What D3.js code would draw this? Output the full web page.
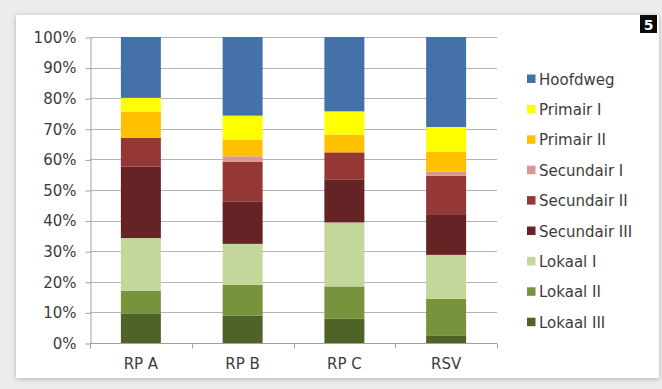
<!DOCTYPE html>
<html>
<head>
<meta charset="utf-8">
<script src="https://cdn.jsdelivr.net/npm/d3@7"></script>
<style>
  html, body { margin: 0; padding: 0; background: #ebebeb; }
  svg { display: block; }
</style>
</head>
<body>
<svg id="chart" width="662" height="389"></svg>
<script>
const categories = ["RP A", "RP B", "RP C", "RSV"];
const seriesNames = ["Lokaal III", "Lokaal II", "Lokaal I", "Secundair III", "Secundair II", "Secundair I", "Primair II", "Primair I", "Hoofdweg"];
const seriesColors = ["#4f6228", "#77933c", "#c4d79b", "#652326", "#953735", "#d99694", "#ffc000", "#ffff00", "#4472a8"];
const lokaalIII = [9.7, 8.9, 8.0, 2.5];
const lokaalII = [7.3, 10.1, 10.5, 11.9];
const lokaalI = [17.3, 13.4, 20.9, 14.4];
const secundairIII = [23.4, 13.9, 14.1, 13.3];
const secundairII = [9.4, 12.9, 8.8, 12.6];
const secundairI = [0, 1.8, 0, 1.3];
const primairII = [8.4, 5.5, 5.8, 6.6];
const primairI = [4.6, 7.8, 7.6, 8.0];
const hoofdweg = [19.9, 25.7, 24.3, 29.4];
const yTicks = [0, 10, 20, 30, 40, 50, 60, 70, 80, 90, 100];

const seriesValues = [lokaalIII, lokaalII, lokaalI, secundairIII, secundairII, secundairI, primairII, primairI, hoofdweg];
const rows = categories.map((c, i) => {
  const r = { cat: c };
  seriesNames.forEach((s, j) => r[s] = seriesValues[j][i]);
  return r;
});
const stacked = d3.stack().keys(seriesNames)
  .value((d, k) => d[k])
  .offset(d3.stackOffsetExpand)(rows);

const svg = d3.select("#chart");
const defs = svg.append("defs");
const flt = defs.append("filter").attr("id", "sh").attr("x", "-5%").attr("y", "-5%").attr("width", "110%").attr("height", "115%");
flt.append("feDropShadow").attr("dx", 0).attr("dy", 1).attr("stdDeviation", 2.5).attr("flood-color", "#000").attr("flood-opacity", 0.25);

svg.append("rect").attr("x", 0).attr("y", 0).attr("width", 662).attr("height", 389).attr("fill", "#ececec");
// card
svg.append("rect").attr("x", 16).attr("y", 15).attr("width", 643).attr("height", 363)
  .attr("fill", "#ffffff").attr("filter", "url(#sh)");

// badge
svg.append("rect").attr("x", 640).attr("y", 15).attr("width", 17).attr("height", 18).attr("fill", "#0a0a0a");
svg.append("text").attr("x", 648.5).attr("y", 29.5).attr("text-anchor", "middle")
  .attr("font-family", "DejaVu Sans").attr("font-weight", "bold").attr("font-size", 14)
  .attr("fill", "#fff").text("5");

const x0 = 90, x1 = 497, yTop = 37, yBot = 343;
const x = d3.scaleBand().domain(categories).range([x0, x1]).paddingInner(0.607).paddingOuter(0.3035);
const y = d3.scaleLinear().domain([0, 1]).range([yBot, yTop]);

// gridlines
svg.append("g").selectAll("line").data(yTicks.filter(t => t > 0)).join("line")
  .attr("x1", x0).attr("x2", x1)
  .attr("y1", d => Math.round(y(d / 100)) + 0.5).attr("y2", d => Math.round(y(d / 100)) + 0.5)
  .attr("stroke", "#b4b4b4").attr("stroke-width", 1);

// bars
svg.append("g").selectAll("g").data(stacked).join("g")
  .attr("fill", (d, i) => seriesColors[i])
  .selectAll("rect").data(d => d).join("rect")
  .attr("x", d => x(d.data.cat))
  .attr("width", x.bandwidth())
  .attr("y", d => y(d[1]))
  .attr("height", d => Math.max(0, y(d[0]) - y(d[1])));

// y axis
const yAxis = d3.axisLeft(d3.scaleLinear().domain([0, 100]).range([yBot, yTop]))
  .tickValues(yTicks).tickFormat(d => d + "%").tickSizeInner(5).tickSizeOuter(0).tickPadding(9);
const gy = svg.append("g").attr("transform", `translate(${x0 + 0.5},0.5)`).call(yAxis);
gy.select(".domain").attr("stroke", "#a0a0a0");
gy.selectAll(".tick line").attr("stroke", "#a0a0a0");
gy.selectAll("text").attr("font-family", "DejaVu Sans").attr("font-size", 15).attr("fill", "#3c3c3c");

// x axis
const gx = svg.append("g").attr("transform", `translate(0,${yBot + 0.5})`);
gx.append("line").attr("x1", x0).attr("x2", x1).attr("y1", 0).attr("y2", 0).attr("stroke", "#a0a0a0");
const bounds = [x0].concat(categories.map(c => x(c) + x.bandwidth() + x.step() * x.paddingInner() / 2));
bounds[bounds.length - 1] = x1;
gx.selectAll("line.tk").data(bounds).join("line").attr("class", "tk")
  .attr("x1", d => Math.round(d) + 0.5).attr("x2", d => Math.round(d) + 0.5)
  .attr("y1", 0).attr("y2", 5).attr("stroke", "#a0a0a0");
gx.selectAll("text").data(categories).join("text")
  .attr("x", d => x(d) + x.bandwidth() / 2).attr("y", 25)
  .attr("text-anchor", "middle")
  .attr("font-family", "DejaVu Sans").attr("font-size", 15).attr("fill", "#3c3c3c")
  .text(d => d);

// legend (top to bottom: Hoofdweg ... Lokaal III)
const legendItems = seriesNames.map((n, i) => ({ name: n, color: seriesColors[i] })).reverse();
const lg = svg.append("g").attr("transform", "translate(527,79)");
const item = lg.selectAll("g").data(legendItems).join("g")
  .attr("transform", (d, i) => `translate(0,${i * 30.4})`);
item.append("rect").attr("x", 0).attr("y", -4.5).attr("width", 8.5).attr("height", 8.5).attr("fill", d => d.color);
item.append("text").attr("x", 12).attr("y", 5.5)
  .attr("font-family", "DejaVu Sans").attr("font-size", 15).attr("fill", "#3c3c3c")
  .text(d => d.name);
</script>
</body>
</html>
